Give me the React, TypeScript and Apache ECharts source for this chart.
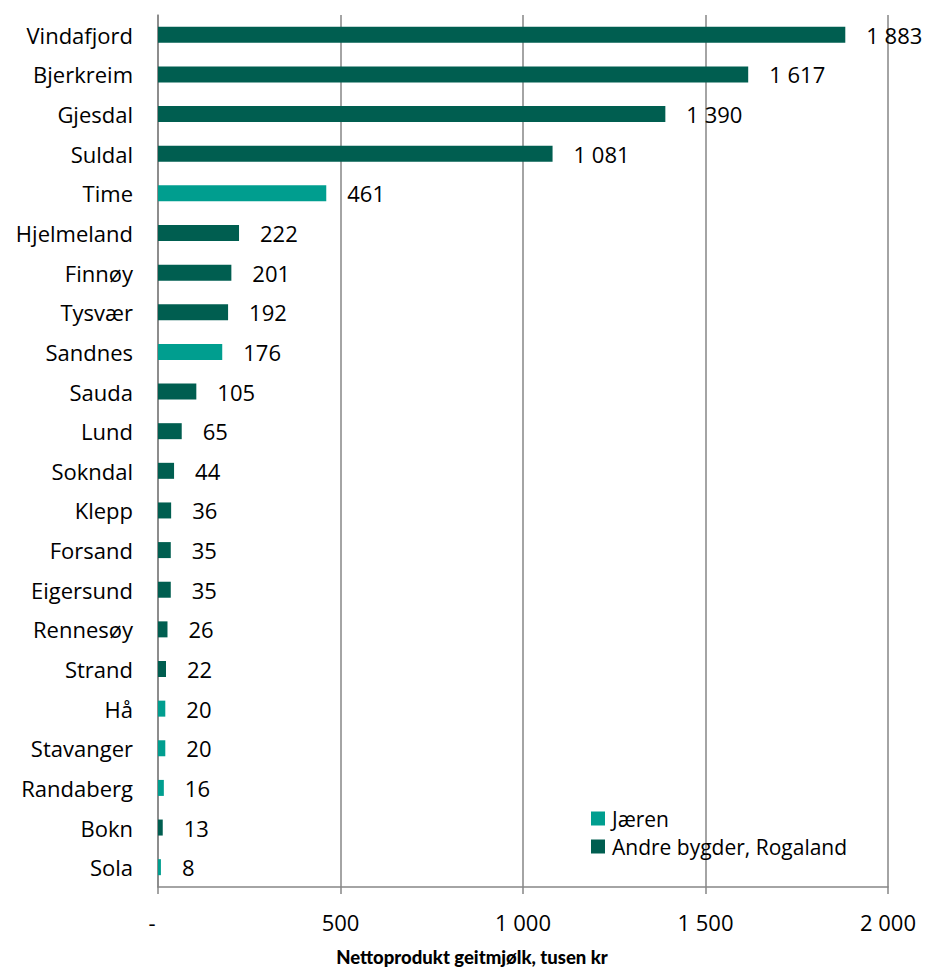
import React, { useEffect, useRef } from "react";
import * as echarts from "echarts";

const categories = [
  "Vindafjord", "Bjerkreim", "Gjesdal", "Suldal", "Time", "Hjelmeland", "Finnøy",
  "Tysvær", "Sandnes", "Sauda", "Lund", "Sokndal", "Klepp", "Forsand", "Eigersund",
  "Rennesøy", "Strand", "Hå", "Stavanger", "Randaberg", "Bokn", "Sola",
];
const jaeren: (number | null)[] = [
  null, null, null, null, 461, null, null, null, 176, null, null, null, null, null, null,
  null, null, 20, 20, 16, null, 8,
];
const andre: (number | null)[] = [
  1883, 1617, 1390, 1081, null, 222, 201, 192, null, 105, 65, 44, 36, 35, 35,
  26, 22, null, null, null, 13, null,
];
const seriesNames = ["Jæren", "Andre bygder, Rogaland"];
const xTicks = { min: 0, max: 2000, interval: 500 };
const axisTitle = "Nettoprodukt geitmjølk, tusen kr";

const fmt = (v: number) => String(Math.round(v)).replace(/\B(?=(\d{3})+(?!\d))/g, " ");

const FONT = "Open Sans";
const FS = 22;
const DARK = "#005E50";
const LIGHT = "#009E8F";

export default function App() {
  const ref = useRef<HTMLDivElement>(null);
  useEffect(() => {
    if (!ref.current) return;
    const chart = echarts.init(ref.current, undefined, { renderer: "svg" });
    const label = {
      show: true,
      position: "right" as const,
      distance: 21,
      color: "#000",
      fontFamily: FONT,
      fontSize: FS,
      formatter: (p: any) => fmt(p.value),
    };
    chart.setOption({
      animation: false,
      textStyle: { fontFamily: FONT },
      grid: { left: 158, right: 40, top: 15, bottom: 87, containLabel: false },
      legend: {
        orient: "vertical",
        left: 586,
        top: 803,
        itemWidth: 14,
        itemHeight: 14,
        itemGap: 7,
        icon: "rect",
        textStyle: {
          fontFamily: FONT,
          fontSize: 21,
          lineHeight: 20,
          color: "#000",
          padding: [0, 0, 0, 2],
        },
        data: seriesNames,
      },
      xAxis: {
        type: "value",
        min: xTicks.min,
        max: xTicks.max,
        interval: xTicks.interval,
        axisLine: { show: true, lineStyle: { color: "#868686", width: 1.5 } },
        axisTick: { show: true, length: 7, lineStyle: { color: "#868686", width: 1.5 } },
        splitLine: { show: true, lineStyle: { color: "#868686", width: 1.5 } },
        axisLabel: {
          margin: 24,
          color: "#000",
          fontFamily: FONT,
          fontSize: FS,
          formatter: (v: number) => (v === 0 ? "{d|-}" : fmt(v)),
          rich: { d: { fontFamily: FONT, fontSize: FS, color: "#000", padding: [0, 12, 0, 0] } },
        },
      },
      yAxis: {
        type: "category",
        inverse: true,
        data: categories,
        axisLine: { show: true, lineStyle: { color: "#868686", width: 1.5 } },
        axisTick: { show: false },
        axisLabel: { margin: 25, color: "#000", fontFamily: FONT, fontSize: FS },
      },
      graphic: [
        {
          type: "text",
          x: 472,
          y: 957,
          style: {
            text: axisTitle,
            fontFamily: "Lato",
            fontWeight: 900,
            fontSize: 18.5,
            fill: "#000",
            textAlign: "center",
            textVerticalAlign: "middle",
          },
        },
      ],
      series: [
        {
          name: seriesNames[0],
          type: "bar",
          stack: "s",
          barWidth: 16,
          data: jaeren,
          itemStyle: { color: LIGHT },
          label,
        },
        {
          name: seriesNames[1],
          type: "bar",
          stack: "s",
          barWidth: 16,
          data: andre,
          itemStyle: { color: DARK },
          label,
        },
      ],
    });
    return () => chart.dispose();
  }, []);
  return (
    <div
      ref={ref}
      style={{ position: "absolute", left: 0, top: 0, width: 928, height: 974 }}
    />
  );
}
